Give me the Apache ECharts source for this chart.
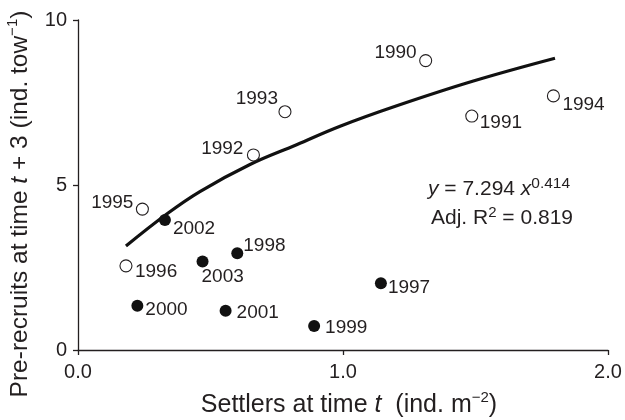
<!DOCTYPE html>
<html>
<head>
<meta charset="utf-8">
<script src="https://cdn.jsdelivr.net/npm/echarts@6/dist/echarts.min.js"></script>
<style>html,body{margin:0;padding:0;background:#fff}#c{width:625px;height:420px}</style>
</head>
<body>
<div id="c"></div>
<script>
// ---- data ----
const openYears = ['1990', '1991', '1992', '1993', '1994', '1995', '1996'];
const openX = [1.312, 1.486, 0.662, 0.781, 1.794, 0.243, 0.181];
const openY = [8.77, 7.09, 5.91, 7.22, 7.70, 4.27, 2.55];

const filledYears = ['1997', '1998', '1999', '2000', '2001', '2002', '2003'];
const filledX = [1.143, 0.601, 0.891, 0.224, 0.557, 0.328, 0.470];
const filledY = [2.02, 2.93, 0.73, 1.34, 1.19, 3.94, 2.68];

// fitted curve, points
const fitX = [0.181, 0.335, 0.46, 0.649, 0.825, 0.989, 1.203, 1.492, 1.80];
const fitY = [3.15, 4.12, 4.80, 5.62, 6.22, 6.78, 7.40, 8.15, 8.84];

const xTicks = [0, 1, 2];
const yTicks = [0, 5, 10];

// ---- label placement (style, kept separately) ----
const labelPlace = {
  '1990': [-9, -8, 'right'], '1991': [8, 7, 'left'], '1992': [-10, -6, 'right'],
  '1993': [-7, -13, 'right'], '1994': [9, 9, 'left'], '1995': [-9, -6, 'right'],
  '1996': [9, 6, 'left'], '1997': [7, 4, 'left'], '1998': [6, -8, 'left'],
  '1999': [11, 2, 'left'], '2000': [8, 4, 'left'], '2001': [11, 2, 'left'],
  '2002': [8, 9, 'left'], '2003': [-1, 15, 'left']
};

const FONT = 'Liberation Sans, Arial, Helvetica, sans-serif';
const INK = '#231f20';

function pts(years, xs, ys) {
  return years.map((yr, i) => {
    const p = labelPlace[yr];
    return {
      value: [xs[i], ys[i]],
      name: yr,
      label: { offset: [p[0], p[1]], align: p[2] }
    };
  });
}

const labelBase = {
  show: true, position: 'inside', formatter: '{b}', color: INK,
  fontFamily: FONT, fontSize: 19, verticalAlign: 'middle'
};

function titleRich(size) {
  return {
    n: { fontSize: size, fontFamily: FONT, color: INK, verticalAlign: 'bottom', lineHeight: 28 },
    i: { fontSize: size, fontFamily: FONT, color: INK, fontStyle: 'italic', verticalAlign: 'bottom', lineHeight: 28 },
    s: { fontSize: 15, fontFamily: FONT, color: INK, verticalAlign: 'top', lineHeight: 15 }
  };
}

const chart = echarts.init(document.getElementById('c'), null, { renderer: 'canvas' });
chart.setOption({
  animation: false,
  backgroundColor: '#fff',
  grid: { left: 78, right: 17, top: 20, bottom: 70, containLabel: false, outerBoundsMode: 'none' },
  xAxis: {
    type: 'value', min: xTicks[0], max: xTicks[xTicks.length - 1], interval: xTicks[1] - xTicks[0],
    splitLine: { show: false },
    axisLine: { lineStyle: { color: INK, width: 1.3 } },
    axisTick: { inside: false, length: 5, lineStyle: { color: INK, width: 1.3 } },
    axisLabel: { color: INK, fontFamily: FONT, fontSize: 20, margin: 12, formatter: v => v.toFixed(1) },
    name: '{n|Settlers at time }{i|t}{n|  (ind. m}{s|−2}{n|)}',
    nameLocation: 'middle', nameGap: 40,
    nameTextStyle: {
      color: INK, fontFamily: FONT, fontSize: 25, padding: [0, 0, 0, 12],
      rich: titleRich(25)
    }
  },
  yAxis: {
    type: 'value', min: yTicks[0], max: yTicks[yTicks.length - 1], interval: yTicks[1] - yTicks[0],
    splitLine: { show: false },
    axisLine: { lineStyle: { color: INK, width: 1.3 } },
    axisTick: { inside: false, length: 5, lineStyle: { color: INK, width: 1.3 } },
    axisLabel: { color: INK, fontFamily: FONT, fontSize: 20, margin: 11 },
    name: '{n|Pre-recruits at time }{i|t}{n| + 3 (ind. tow}{s|−1}{n|)}',
    nameLocation: 'middle', nameGap: 45, nameRotate: 90,
    nameTextStyle: {
      color: INK, fontFamily: FONT, fontSize: 24.5, padding: [0, 38, 0, 0],
      rich: titleRich(24.5)
    }
  },
  series: [
    {
      type: 'line', data: fitX.map((x, i) => [x, fitY[i]]), smooth: 0.4,
      showSymbol: false, symbol: 'none', z: 1,
      lineStyle: { color: '#111', width: 3.2 }, silent: true
    },
    {
      type: 'scatter', symbol: 'circle', symbolSize: 12, z: 3,
      itemStyle: { color: '#fff', borderColor: INK, borderWidth: 1.1, opacity: 1 },
      label: labelBase,
      data: pts(openYears, openX, openY)
    },
    {
      type: 'scatter', symbol: 'circle', symbolSize: 12, z: 3,
      itemStyle: { color: '#111', borderColor: '#111', borderWidth: 0, opacity: 1 },
      label: labelBase,
      data: pts(filledYears, filledX, filledY)
    }
  ],
  graphic: [
    {
      type: 'text', left: 428, top: 176, z: 10,
      style: {
        text: '{i|y}{n| = 7.294 }{i|x}{s|0.414}',
        rich: {
          n: { fontSize: 21, fontFamily: FONT, fill: INK, verticalAlign: 'bottom', lineHeight: 24 },
          i: { fontSize: 21, fontFamily: FONT, fill: INK, fontStyle: 'italic', verticalAlign: 'bottom', lineHeight: 24 },
          s: { fontSize: 15.5, fontFamily: FONT, fill: INK, verticalAlign: 'top', lineHeight: 15 }
        }
      }
    },
    {
      type: 'text', left: 431, top: 205, z: 10,
      style: {
        text: '{n|Adj. R}{s|2}{n| = 0.819}',
        rich: {
          n: { fontSize: 21, fontFamily: FONT, fill: INK, verticalAlign: 'bottom', lineHeight: 24 },
          s: { fontSize: 15, fontFamily: FONT, fill: INK, verticalAlign: 'top', lineHeight: 15 }
        }
      }
    }
  ]
});
</script>
</body>
</html>
